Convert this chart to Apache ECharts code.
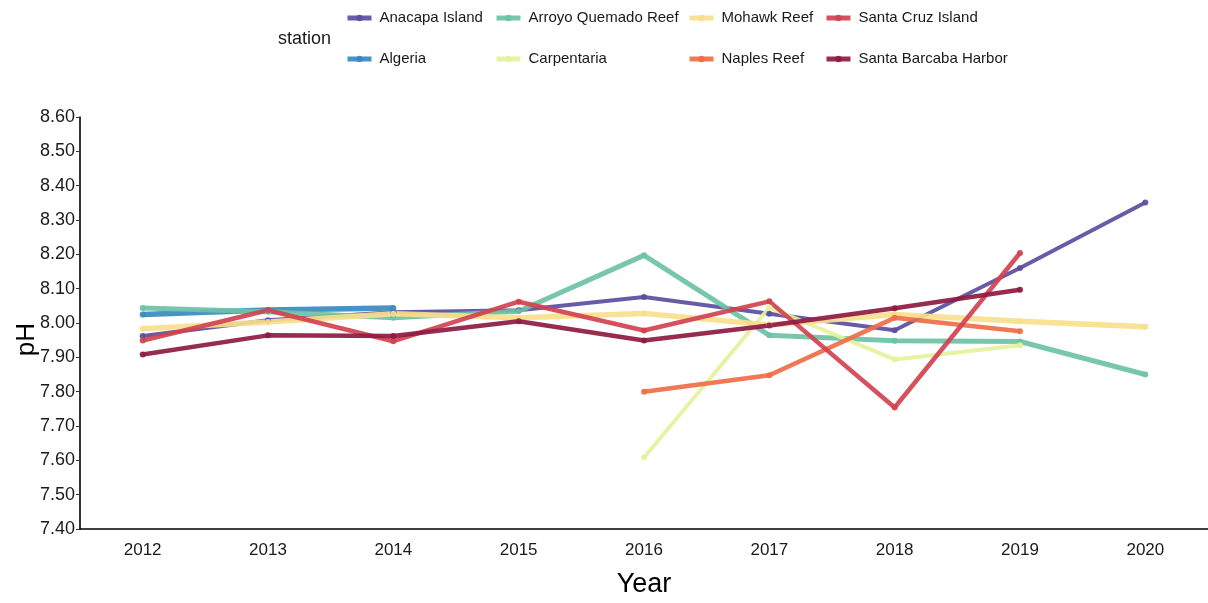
<!DOCTYPE html>
<html>
<head>
<meta charset="utf-8">
<script src="https://cdn.jsdelivr.net/npm/echarts@6/dist/echarts.min.js"></script>
<style>
html,body{margin:0;padding:0;background:#fff;overflow:hidden;}
#chart{width:100vw;height:100vh;}
</style>
</head>
<body>
<div id="chart"></div>
<script>
const years = ['2012','2013','2014','2015','2016','2017','2018','2019','2020'];
const yTicks = ['7.40','7.50','7.60','7.70','7.80','7.90','8.00','8.10','8.20','8.30','8.40','8.50','8.60'];
const stations = ['Anacapa Island','Algeria','Arroyo Quemado Reef','Carpentaria','Mohawk Reef','Naples Reef','Santa Cruz Island','Santa Barcaba Harbor'];
const colors = ['#5B4DA0','#3A89BF','#6CC2A6','#E4F29A','#F8DE8C','#EE6E45','#D1424F','#8E1A42'];

const anacapa     = [7.962, 8.008, 8.031, 8.037, 8.076, 8.027, 7.979, 8.160, 8.351];
const algeria     = [8.025, 8.038, 8.044, null, null, null, null, null, null];
const arroyo      = [8.044, 8.033, 8.015, 8.034, 8.197, 7.964, 7.948, 7.946, 7.850];
const carpentaria = [null, null, null, null, 7.608, 8.045, 7.894, 7.935, null];
const mohawk      = [7.983, 8.003, 8.027, 8.015, 8.028, 7.994, 8.025, 8.005, 7.989];
const naples      = [null, null, null, null, 7.800, 7.848, 8.015, 7.976, null];
const santaCruz   = [7.949, 8.037, 7.947, 8.062, 7.978, 8.063, 7.754, 8.204, null];
const santaBarb   = [7.908, 7.964, 7.962, 8.005, 7.949, 7.993, 8.043, 8.097, null];

const seriesData = [anacapa, algeria, arroyo, carpentaria, mohawk, naples, santaCruz, santaBarb];
const widths = [4, 5.5, 5, 4, 5.5, 4.5, 4.5, 4.5];

const FONT = '"Liberation Sans", Arial, sans-serif';

const legendPos = [
  [345, 8], [345, 49],
  [494, 8], [494, 49],
  [687, 8], [687, 49],
  [824, 8], [824, 49]
];

const legends = stations.map((s, i) => ({
  data: [s],
  left: legendPos[i][0],
  top: legendPos[i][1],
  padding: 0,
  selectedMode: false,
  itemWidth: 24,
  itemHeight: 8,
  itemGap: 0,
  lineStyle: {width: 5},
  textStyle: {fontFamily: FONT, fontSize: 15, color: '#1a1a1a', padding: [0,0,0,3], lineHeight: 20}
}));

const chart = echarts.init(document.getElementById('chart'), null, {renderer: 'canvas'});
chart.setOption({
  animation: false,
  backgroundColor: '#fff',
  color: colors,
  title: {
    text: 'station', left: 273, top: 25,
    textStyle: {fontFamily: FONT, fontSize: 18, fontWeight: 'normal', color: '#1a1a1a'}
  },
  legend: legends,
  grid: {left: 80, right: 0, top: 117, bottom: 73, containLabel: false},
  xAxis: {
    type: 'category',
    data: years,
    boundaryGap: true,
    name: 'Year',
    nameLocation: 'middle',
    nameGap: 42,
    nameTextStyle: {fontFamily: FONT, fontSize: 27, color: '#000'},
    axisLine: {lineStyle: {color: '#000', width: 1.6}},
    axisTick: {alignWithLabel: true, length: 5, lineStyle: {color: '#333'}},
    axisLabel: {fontFamily: FONT, fontSize: 17, color: '#1a1a1a', margin: 13}
  },
  yAxis: {
    type: 'value',
    min: 7.4, max: 8.6, interval: 0.1,
    name: '',
    splitLine: {show: false},
    axisLine: {show: true, lineStyle: {color: '#000', width: 1.6}},
    axisTick: {show: true, length: 4, lineStyle: {color: '#333'}},
    axisLabel: {
      fontFamily: FONT, fontSize: 18, color: '#1a1a1a', margin: 5,
      formatter: v => yTicks[Math.round((v - 7.4) * 10)] || v.toFixed(2)
    }
  },
  graphic: [{
    type: 'text',
    left: 14,
    top: 323,
    rotation: Math.PI / 2,
    style: {text: 'pH', fontFamily: FONT, fontSize: 26, fill: '#000'}
  }],
  series: stations.map((s, i) => ({
    name: s,
    type: 'line',
    data: seriesData[i],
    connectNulls: false,
    symbol: 'circle',
    symbolSize: 6,
    showSymbol: true,
    lineStyle: {width: widths[i], color: colors[i], opacity: 0.92},
    itemStyle: {color: colors[i], opacity: 0.92},
    emphasis: {disabled: true}
  }))
});
</script>
</body>
</html>
